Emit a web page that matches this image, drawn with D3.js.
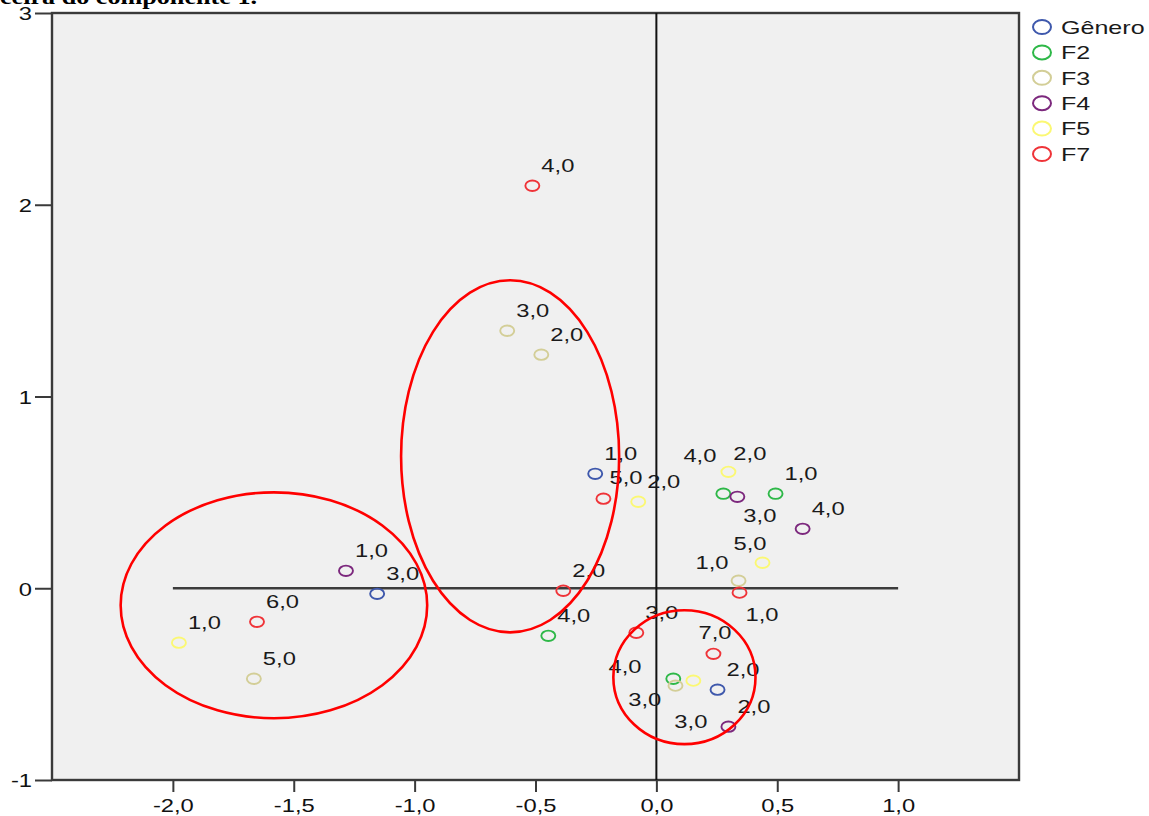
<!DOCTYPE html>
<html>
<head>
<meta charset="utf-8">
<script src="https://cdn.jsdelivr.net/npm/d3@7"></script>
<style>
  body { margin: 0; background: #fff; }
  svg { display: block; }
</style>
</head>
<body>
<svg id="chart" width="1149" height="816"></svg>
<script>
// ---- data -------------------------------------------------------------
const seriesNames  = ["Gênero", "F2", "F3", "F4", "F5", "F7"];
const seriesColors = ["#3e58ac", "#2eb848", "#d3ce97", "#7c287d", "#fbf873", "#ef3338"];

// category quantifications: [dimension 1, dimension 2, category]
const generoPoints = [[-0.253, 0.597, 1], [0.253, -0.529, 2], [-1.155, -0.029, 3]];
const f2Points     = [[0.493, 0.493, 1], [0.277, 0.493, 2], [0.070, -0.472, 3], [-0.447, -0.248, 4]];
const f3Points     = [[0.340, 0.039, 1], [-0.476, 1.218, 2], [-0.617, 1.343, 3], [0.079, -0.508, 4], [-1.665, -0.472, 5]];
const f4Points     = [[-1.284, 0.091, 1], [0.298, -0.722, 2], [0.335, 0.477, 3], [0.605, 0.310, 4]];
const f5Points     = [[-1.975, -0.284, 1], [-0.075, 0.451, 2], [0.153, -0.482, 3], [0.298, 0.607, 4], [0.439, 0.133, 5]];
const f7Points     = [[0.344, -0.023, 1], [-0.385, -0.013, 2], [-0.083, -0.232, 3], [-0.513, 2.099, 4],
                      [-0.219, 0.467, 5], [-1.652, -0.175, 6], [0.236, -0.342, 7]];
const seriesPoints = [generoPoints, f2Points, f3Points, f4Points, f5Points, f7Points];

const xTicks = [-2.0, -1.5, -1.0, -0.5, 0.0, 0.5, 1.0];
const yTicks = [-1, 0, 1, 2, 3];

// grouped categories, outlined in data units: [centre x, centre y, radius x, radius y]
const groupOutlines = [[-1.582, -0.089, 0.634, 0.589], [-0.605, 0.688, 0.451, 0.918], [0.116, -0.464, 0.294, 0.349]];

const titleText = "ceira do componente 1.";

// ---- layout -----------------------------------------------------------
const W = 1149, H = 816;
const plot = { left: 52, right: 1019, top: 13, bottom: 780 };
const STRETCH = 1.25;           // horizontal stretch applied to all text
const labelOffset = [9, -14];   // default label placement relative to a marker
// label nudges where labels would collide, keyed "series|category"
const labelNudge = {
  "F5|4": [-45, -10], "F2|2": [10, -34], "F4|3": [6, 25], "F5|5": [-29, -13],
  "F3|1": [-43, -12], "F7|1": [6, 28], "F7|7": [-15, -15], "F3|4": [-67, -13],
  "F2|3": [-45, 27], "F5|3": [-19, 47], "F7|5": [6, -15]
};

const svg = d3.select("#chart");
const x = d3.scaleLinear().domain([-2.5, 1.5]).range([plot.left, plot.right]);
const y = d3.scaleLinear().domain([-1, 3]).range([plot.bottom, plot.top]);
const fmt = v => d3.format(".1f")(v).replace(".", ",").replace("−", "-");
const fontFam = "'Liberation Sans', Arial, sans-serif";

// title line (partly cut by the page top)
svg.append("text")
  .attr("x", 0).attr("y", 4)
  .attr("textLength", 257).attr("lengthAdjust", "spacingAndGlyphs")
  .style("font-family", "'Liberation Serif', 'Times New Roman', serif")
  .style("font-weight", "bold").style("font-size", "20px")
  .text(titleText);

// plot background
svg.append("rect")
  .attr("x", plot.left).attr("y", plot.top)
  .attr("width", plot.right - plot.left).attr("height", plot.bottom - plot.top)
  .attr("fill", "#f0f0f0");

// axes
const yAxis = svg.append("g")
  .attr("transform", `translate(${plot.left},0)`)
  .call(d3.axisLeft(y).tickValues(yTicks).tickFormat(d => String(d).replace("−", "-")).tickSize(17).tickPadding(0));
const xAxis = svg.append("g")
  .attr("transform", `translate(0,${plot.bottom})`)
  .call(d3.axisBottom(x).tickValues(xTicks).tickFormat(fmt).tickSize(12).tickPadding(0));

[yAxis, xAxis].forEach(g => {
  g.select(".domain").remove();
  g.selectAll(".tick line").attr("stroke", "#3a3a3a").attr("stroke-width", 2);
  g.selectAll(".tick text")
    .attr("fill", "#111")
    .style("font-family", fontFam).style("font-size", "19px");
});
yAxis.selectAll(".tick text").attr("x", null).attr("dy", "0.36em")
  .attr("transform", `translate(-20,0) scale(${STRETCH},1)`);
xAxis.selectAll(".tick text").attr("y", null).attr("dy", null)
  .attr("transform", `translate(0,32) scale(${STRETCH},1)`);

// frame
svg.append("rect")
  .attr("x", plot.left).attr("y", plot.top)
  .attr("width", plot.right - plot.left).attr("height", plot.bottom - plot.top)
  .attr("fill", "none").attr("stroke", "#3a3a3a").attr("stroke-width", 2.4);

// reference lines through the origin
svg.append("line")
  .attr("x1", x(-2)).attr("x2", x(1)).attr("y1", y(0)).attr("y2", y(0))
  .attr("stroke", "#3c3c3c").attr("stroke-width", 2.4);
svg.append("line")
  .attr("x1", x(0)).attr("x2", x(0)).attr("y1", y(3)).attr("y2", y(-1))
  .attr("stroke", "#111").attr("stroke-width", 2);

// category markers and labels
const rows = [];
seriesPoints.forEach((pts, si) => pts.forEach(p => rows.push({ s: si, vx: p[0], vy: p[1], cat: p[2] })));

svg.append("g").selectAll("ellipse").data(rows).join("ellipse")
  .attr("cx", d => x(d.vx)).attr("cy", d => y(d.vy))
  .attr("rx", 7).attr("ry", 5.2)
  .attr("fill", "none")
  .attr("stroke", d => seriesColors[d.s]).attr("stroke-width", 1.9);

svg.append("g").selectAll("text").data(rows).join("text")
  .attr("transform", d => {
    const off = labelNudge[seriesNames[d.s] + "|" + d.cat] || labelOffset;
    return `translate(${x(d.vx) + off[0]},${y(d.vy) + off[1]}) scale(${STRETCH},1)`;
  })
  .attr("fill", "#1a1a1a")
  .style("font-family", fontFam).style("font-size", "19px")
  .text(d => fmt(d.cat));

// outlines around grouped categories
svg.append("g").selectAll("ellipse").data(groupOutlines).join("ellipse")
  .attr("cx", d => x(d[0])).attr("cy", d => y(d[1]))
  .attr("rx", d => x(d[0] + d[2]) - x(d[0]))
  .attr("ry", d => y(d[1] - d[3]) - y(d[1]))
  .attr("fill", "none").attr("stroke", "#ff0000").attr("stroke-width", 2.6);

// legend
const legend = svg.append("g");
const item = legend.selectAll("g").data(seriesNames).join("g")
  .attr("transform", (d, i) => `translate(1042,${27 + i * 25.4})`);
item.append("ellipse")
  .attr("rx", 9).attr("ry", 7)
  .attr("fill", "none")
  .attr("stroke", (d, i) => seriesColors[i]).attr("stroke-width", 2);
item.append("text")
  .attr("transform", `translate(19,0) scale(1.32,1)`)
  .attr("dy", "0.36em")
  .attr("fill", "#1a1a1a")
  .style("font-family", fontFam).style("font-size", "19px")
  .text(d => d);
</script>
</body>
</html>
